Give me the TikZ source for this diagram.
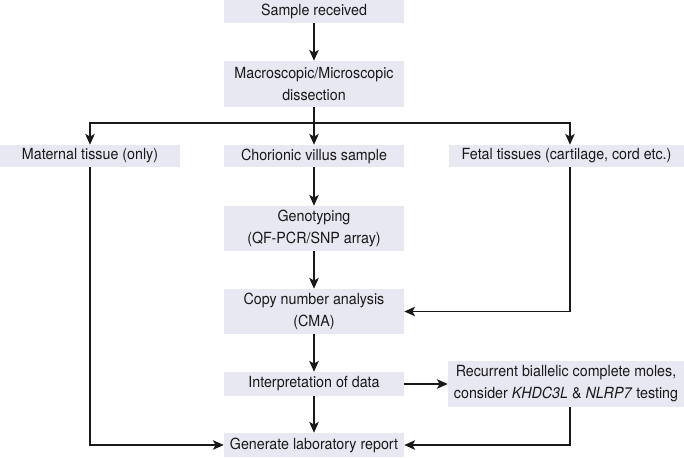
\documentclass[tikz,border=0pt]{standalone}
\usepackage{fontspec}
\setmainfont{TeX Gyre Heros}[FakeStretch=0.93]
\usetikzlibrary{arrows.meta}
\definecolor{boxfill}{RGB}{231,232,241}
\definecolor{inkline}{RGB}{25,25,25}

\begin{document}
\begin{tikzpicture}[x=0.75pt, y=-0.75pt,
  box/.style = {fill=boxfill, draw=none, align=center, inner sep=0pt, text=inkline,
    font=\fontsize{11.5}{16.5}\selectfont, minimum width=#1*0.75pt},
  box/.default = 180,
  arr/.style = {draw=inkline, line width=1.25pt, -{Stealth[length=8pt, width=7pt, inset=1.8pt]}},
  ln/.style = {draw=inkline, line width=1.25pt}]

\useasboundingbox (0,0) rectangle (684,457);

% Boxes
\node[box, minimum height=17.25pt] (sample) at (314, 11.5) {Sample received};
\node[box, minimum height=34.5pt] (macro) at (314, 84) {Macroscopic/Microscopic\\dissection};

\node[box, minimum height=16.5pt] (maternal) at (90, 156) {Maternal tissue (only)};
\node[box, minimum height=16.5pt] (chorion) at (314, 156) {Chorionic villus sample};
\node[box=235, minimum height=16.5pt] (fetal) at (566.5, 156) {Fetal tissues (cartilage, cord etc.)};

\node[box, minimum height=33.75pt] (geno) at (314, 228.5) {Genotyping\\(QF-PCR/SNP array)};
\node[box, minimum height=33.75pt] (cma) at (314, 311.5) {Copy number analysis\\(CMA)};

\node[box, minimum height=18pt] (interp) at (314, 384) {Interpretation of data};
\node[box=236, minimum height=34.5pt] (recur) at (566, 384) {Recurrent biallelic complete moles,\\consider \textit{KHDC3L} \& \textit{NLRP7} testing};

\node[box, minimum height=18pt] (report) at (314, 445) {Generate laboratory report};

% Split point
\coordinate (split) at (314, 123);

% Arrows
\draw[arr] (sample) -- (macro);
\draw[ln] (macro) -- (split);
\draw[arr] (split) -| (maternal);
\draw[arr] (split) -- (chorion);
\draw[arr] (split) -| ([xshift=2.6pt]fetal.north);

\draw[arr] (chorion) -- (geno);
\draw[arr] (geno) -- (cma);
\draw[arr] ([xshift=2.6pt]fetal.south) |- (cma.east);
\draw[arr] (cma) -- (interp);
\draw[arr] (interp) -- (recur);
\draw[arr] (interp) -- (report);

\draw[arr] (maternal) |- (report.west);
\draw[arr] ([xshift=3pt]recur.south) |- (report.east);

\end{tikzpicture}
\end{document}
